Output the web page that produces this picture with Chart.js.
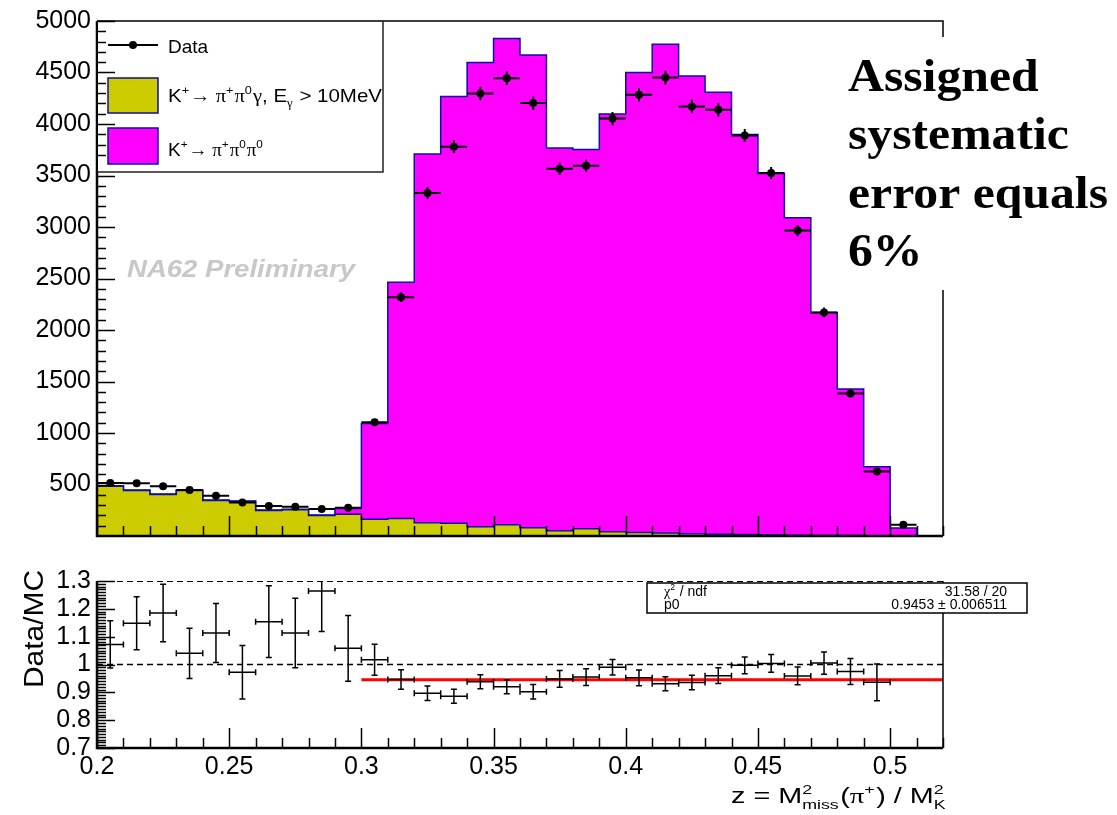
<!DOCTYPE html>
<html>
<head>
<meta charset="utf-8">
<title>Data / MC</title>
<script src="https://cdn.jsdelivr.net/npm/chart.js@4.4.1/dist/chart.umd.min.js"></script>
<style>
  html, body { margin: 0; padding: 0; background: #fff; }
  #contenedor { position: relative; width: 1117px; height: 815px; }
  canvas { position: absolute; left: 0; }
  #grafica { top: 0; }
  #cociente { top: 560px; }
</style>
</head>
<body>
<div id="contenedor">
  <canvas id="grafica" width="1117" height="560"></canvas>
  <canvas id="cociente" width="1117" height="255"></canvas>
</div>
<script>
// Centros de los bines (ancho 0.01)
const binCentros = [0.205, 0.215, 0.225, 0.235, 0.245, 0.255, 0.265, 0.275, 0.285, 0.295,
                    0.305, 0.315, 0.325, 0.335, 0.345, 0.355, 0.365, 0.375, 0.385, 0.395,
                    0.405, 0.415, 0.425, 0.435, 0.445, 0.455, 0.465, 0.475, 0.485, 0.495,
                    0.505, 0.515];
const anchoBin = 0.01;

// Datos con su error
const datos = [515, 512, 484, 446, 390, 326, 291, 284, 262, 274,
               1105, 2319, 3330, 3779, 4296, 4445, 4203, 3566, 3595, 4053,
               4283, 4451, 4170, 4138, 3889, 3524, 2965, 2171, 1383, 627,
               110, null];
const errDatos = [23, 23, 22, 21, 20, 18, 17, 17, 16, 17,
                  33, 48, 58, 61, 66, 67, 65, 60, 60, 64,
                  65, 67, 65, 64, 62, 59, 54, 47, 37, 25,
                  10, 0];

// Simulacion: K+ -> pi+ pi0 gamma (abajo) y K+ -> pi+ pi0 pi0 (encima)
const mcGamma = [483, 441, 402, 441, 344, 334, 247, 254, 199, 210,
                 162, 171, 128, 125, 90, 110, 81, 52, 71, 42,
                 33, 28, 22, 18, 14, 11, 8, 6, 4, 2,
                 1, 0];
const mc3pi = [5, 5, 5, 5, 5, 5, 5, 5, 5, 58,
               930, 2293, 3580, 4142, 4506, 4719, 4590, 3714, 3682, 4054,
               4466, 4746, 4445, 4291, 3884, 3509, 3083, 2165, 1423, 670,
               76, 0];

// Cociente Data/MC
const cociente = [1.072, 1.148, 1.185, 1.040, 1.113, 0.972, 1.154, 1.113, 1.264, 1.058,
                  1.017, 0.946, 0.897, 0.886, 0.938, 0.920, 0.902, 0.948, 0.955, 0.990,
                  0.952, 0.931, 0.935, 0.960, 0.997, 1.004, 0.959, 1.005, 0.975, 0.936,
                  null, null];
const errCociente = [0.085, 0.095, 0.103, 0.090, 0.106, 0.096, 0.129, 0.125, 0.145, 0.118,
                     0.056, 0.035, 0.026, 0.025, 0.025, 0.025, 0.026, 0.030, 0.030, 0.028,
                     0.028, 0.025, 0.026, 0.028, 0.030, 0.032, 0.032, 0.040, 0.047, 0.066,
                     null, null];

// Ajuste a una constante
const ajusteP0 = 0.9453;
const ajusteErr = 0.006511;
const chi2 = 31.58;
const ndf = 20;
const rangoAjuste = [0.30, 0.52];

// Etiquetas de los ejes
const ticksY = [500, 1000, 1500, 2000, 2500, 3000, 3500, 4000, 4500, 5000];
const ticksCociente = [0.7, 0.8, 0.9, 1.0, 1.1, 1.2, 1.3];
const ticksX = [0.2, 0.25, 0.3, 0.35, 0.4, 0.45, 0.5];

const SANS = '"Liberation Sans", Arial, sans-serif';
const SERIF = '"Liberation Serif", "Times New Roman", serif';
const AZUL = '#0c0ca8';

// Puntos de un histograma en escalones (bordes inferiores + borde final)
function escalones(valores) {
    const pts = binCentros.map((c, i) => ({ x: c - anchoBin / 2, y: valores[i] }));
    const n = binCentros.length - 1;
    pts.push({ x: binCentros[n] + anchoBin / 2, y: valores[n] });
    return pts;
}
const totalMC = mcGamma.map((v, i) => v + mc3pi[i]);

// Texto con super/subindices
function fuente(tam, griego, negrita) {
    return (negrita ? 'bold ' : '') + tam + 'px ' + (griego ? SERIF : SANS);
}
function anchoParte(ctx, p, tam) {
    if (p.t !== undefined) {
        ctx.font = fuente(tam, p.g);
        return ctx.measureText(p.t).width;
    }
    const chico = tam * 0.62;
    let w = 0;
    ctx.font = fuente(chico, p.g);
    if (p.sup) w = Math.max(w, ctx.measureText(p.sup).width);
    if (p.sub) w = Math.max(w, ctx.measureText(p.sub).width);
    return w + tam * 0.05;
}
function dibujarRico(ctx, partes, x, y, tam, opc) {
    opc = opc || {};
    let ancho = 0;
    partes.forEach(p => { ancho += anchoParte(ctx, p, tam); });
    const sx = opc.ancho ? opc.ancho / ancho : 1;
    const x0 = opc.alinear === 'right' ? x - ancho * sx : x;
    ctx.save();
    ctx.translate(x0, y);
    ctx.scale(sx, 1);
    ctx.fillStyle = opc.color || '#000';
    ctx.textBaseline = 'alphabetic';
    ctx.textAlign = 'left';
    let cx = 0;
    partes.forEach(p => {
        const w = anchoParte(ctx, p, tam);
        if (p.t !== undefined) {
            ctx.font = fuente(tam, p.g);
            ctx.fillText(p.t, cx, 0);
        } else {
            ctx.font = fuente(tam * 0.62, p.g);
            if (p.sup) ctx.fillText(p.sup, cx, -tam * 0.42);
            if (p.sub) ctx.fillText(p.sub, cx, tam * 0.28);
        }
        cx += w;
    });
    ctx.restore();
}
// Texto simple estirado a un ancho dado
function textoAjustado(ctx, texto, x, y, font, ancho, color) {
    ctx.save();
    ctx.font = font;
    const w = ctx.measureText(texto).width;
    ctx.translate(x, y);
    ctx.scale(ancho / w, 1);
    ctx.fillStyle = color || '#000';
    ctx.textAlign = 'left';
    ctx.textBaseline = 'alphabetic';
    ctx.fillText(texto, 0, 0);
    ctx.restore();
}

// Marcas hacia dentro del marco, estilo ROOT
function marcasY(ctx, esc, area, valores, largo) {
    ctx.beginPath();
    valores.forEach(v => {
        const p = Math.round(esc.getPixelForValue(v)) + 0.5;
        ctx.moveTo(area.left, p);
        ctx.lineTo(area.left + largo, p);
    });
    ctx.stroke();
}
function marcasX(ctx, esc, area, valores, largo) {
    ctx.beginPath();
    valores.forEach(v => {
        const p = Math.round(esc.getPixelForValue(v)) + 0.5;
        ctx.moveTo(p, area.bottom);
        ctx.lineTo(p, area.bottom - largo);
    });
    ctx.stroke();
}
function marcasEjeX(ctx, esc, area) {
    const mayores = [], menores = [];
    for (let k = 20; k <= 52; k++) (k % 5 === 0 ? mayores : menores).push(k / 100);
    marcasX(ctx, esc, area, mayores, 20);
    marcasX(ctx, esc, area, menores, 10);
}

const leyendaGamma = [{ t: 'K' }, { sup: '+' }, { t: '\u2192 ', g: true }, { t: '\u03c0', g: true }, { sup: '+' },
    { t: '\u03c0', g: true }, { sup: '0' }, { t: '\u03b3', g: true }, { t: ', E' }, { sub: '\u03b3', g: true }, { t: ' > 10MeV' }];
const leyenda3pi = [{ t: 'K' }, { sup: '+' }, { t: '\u2192 ', g: true }, { t: '\u03c0', g: true }, { sup: '+' },
    { t: '\u03c0', g: true }, { sup: '0' }, { t: '\u03c0', g: true }, { sup: '0' }];
const tituloX = [{ t: 'z = M' }, { sup: '2', sub: 'miss' }, { t: '(' }, { t: '\u03c0', g: true }, { sup: '+' },
    { t: ') / M' }, { sup: '2', sub: 'K' }];

// Plugin del panel superior: errores, marco, leyenda y textos
const marcoSuperior = {
    id: 'marcoSuperior',
    afterDatasetsDraw(chart) {
        const { ctx, scales: { x, y } } = chart;
        ctx.save();
        ctx.strokeStyle = '#000';
        ctx.lineWidth = 2;
        ctx.beginPath();
        binCentros.forEach((c, i) => {
            if (datos[i] === null) return;
            const px = x.getPixelForValue(c);
            const py = y.getPixelForValue(datos[i]);
            ctx.moveTo(x.getPixelForValue(c - anchoBin / 2), py);
            ctx.lineTo(x.getPixelForValue(c + anchoBin / 2), py);
            ctx.moveTo(px, y.getPixelForValue(datos[i] - errDatos[i]));
            ctx.lineTo(px, y.getPixelForValue(datos[i] + errDatos[i]));
        });
        ctx.stroke();
        ctx.restore();
    },
    afterDraw(chart) {
        const { ctx, chartArea: a, scales: { x, y } } = chart;
        ctx.save();
        ctx.strokeStyle = '#000';

        // marcas
        ctx.lineWidth = 1.5;
        const mayY = [], menY = [];
        for (let k = 1; k <= 50; k++) (k % 5 === 0 ? mayY : menY).push(k * 100);
        marcasY(ctx, y, a, mayY, 18);
        marcasY(ctx, y, a, menY, 9);
        marcasEjeX(ctx, x, a);

        // marco
        ctx.lineWidth = 1.5;
        ctx.beginPath();
        ctx.moveTo(a.left, a.top); ctx.lineTo(a.right, a.top); ctx.lineTo(a.right, a.bottom);
        ctx.stroke();
        ctx.lineWidth = 2.5;
        ctx.beginPath();
        ctx.moveTo(a.left, a.top); ctx.lineTo(a.left, a.bottom); ctx.lineTo(a.right, a.bottom);
        ctx.stroke();

        // leyenda
        ctx.fillStyle = '#fff';
        ctx.fillRect(a.left + 1, a.top + 1, 383 - a.left - 1, 172 - a.top - 1);
        ctx.strokeStyle = '#222';
        ctx.lineWidth = 1.5;
        ctx.beginPath();
        ctx.moveTo(383, a.top); ctx.lineTo(383, 172); ctx.lineTo(a.left, 172);
        ctx.stroke();
        // se repintan las marcas que tapa la leyenda
        ctx.strokeStyle = '#000';
        marcasY(ctx, y, a, mayY.filter(v => v >= 3700), 18);
        marcasY(ctx, y, a, menY.filter(v => v >= 3700), 9);

        ctx.lineWidth = 2;
        ctx.beginPath(); ctx.moveTo(108, 45); ctx.lineTo(158, 45); ctx.stroke();
        ctx.fillStyle = '#000';
        ctx.beginPath(); ctx.arc(133, 45, 4, 0, Math.PI * 2); ctx.fill();
        dibujarRico(ctx, [{ t: 'Data' }], 168, 53, 19);

        ctx.lineWidth = 1.5;
        ctx.strokeStyle = AZUL;
        ctx.fillStyle = '#cccc00';
        ctx.fillRect(108, 78, 50, 35); ctx.strokeRect(108, 78, 50, 35);
        ctx.fillStyle = '#ff00ff';
        ctx.fillRect(108, 128, 50, 36); ctx.strokeRect(108, 128, 50, 36);
        dibujarRico(ctx, leyendaGamma, 168, 102, 19, { ancho: 214 });
        dibujarRico(ctx, leyenda3pi, 168, 156, 19);

        // marca de agua
        textoAjustado(ctx, 'NA62 Preliminary', 127, 277, 'italic bold 24px ' + SANS, 228, '#c8c8c8');

        // recuadro de texto a la derecha
        ctx.fillStyle = '#fff';
        ctx.fillRect(843, 37, 1117 - 843, 253);
        ctx.font = 'bold 46px ' + SERIF;
        const sx = 260 / ctx.measureText('error equals').width;
        ['Assigned', 'systematic', 'error equals', '6%'].forEach((linea, i) => {
            ctx.font = 'bold 46px ' + SERIF;
            const w = ctx.measureText(linea).width;
            textoAjustado(ctx, linea, 848, 91 + i * 58.3, 'bold 46px ' + SERIF, w * sx);
        });
        ctx.restore();
    }
};

// Plugin del panel inferior: errores del cociente, marco y caja del ajuste
const marcoInferior = {
    id: 'marcoInferior',
    afterDatasetsDraw(chart) {
        const { ctx, chartArea: a, scales: { x, y } } = chart;
        ctx.save();
        ctx.beginPath();
        ctx.rect(a.left, a.top, a.right - a.left, a.bottom - a.top);
        ctx.clip();
        ctx.strokeStyle = '#000';
        ctx.lineWidth = 1.5;
        ctx.beginPath();
        binCentros.forEach((c, i) => {
            if (cociente[i] === null) return;
            const px = x.getPixelForValue(c);
            const py = y.getPixelForValue(cociente[i]);
            const x1 = x.getPixelForValue(c - anchoBin / 2);
            const x2 = x.getPixelForValue(c + anchoBin / 2);
            const y1 = y.getPixelForValue(cociente[i] - errCociente[i]);
            const y2 = y.getPixelForValue(cociente[i] + errCociente[i]);
            ctx.moveTo(x1, py); ctx.lineTo(x2, py);
            ctx.moveTo(px, y1); ctx.lineTo(px, y2);
            // topes
            ctx.moveTo(x1, py - 3); ctx.lineTo(x1, py + 3);
            ctx.moveTo(x2, py - 3); ctx.lineTo(x2, py + 3);
            ctx.moveTo(px - 3, y1); ctx.lineTo(px + 3, y1);
            ctx.moveTo(px - 3, y2); ctx.lineTo(px + 3, y2);
        });
        ctx.stroke();
        ctx.restore();
    },
    afterDraw(chart) {
        const { ctx, chartArea: a, scales: { x, y } } = chart;
        ctx.save();
        ctx.strokeStyle = '#000';
        ctx.lineWidth = 1.5;
        const mayY = [], menY = [];
        for (let k = 70; k <= 130; k++) (k % 10 === 0 ? mayY : menY).push(k / 100);
        marcasY(ctx, y, a, mayY, 18);
        marcasY(ctx, y, a, menY, 9);
        marcasEjeX(ctx, x, a);

        ctx.lineWidth = 2.5;
        ctx.beginPath();
        ctx.moveTo(a.left, a.top); ctx.lineTo(a.left, a.bottom); ctx.lineTo(a.right, a.bottom);
        ctx.stroke();
        ctx.lineWidth = 1.5;
        ctx.beginPath();
        ctx.moveTo(a.right, a.top); ctx.lineTo(a.right, a.bottom);
        ctx.stroke();

        // titulo del eje y
        ctx.save();
        ctx.translate(43, 10);
        ctx.rotate(-Math.PI / 2);
        ctx.font = '27px ' + SANS;
        const w = ctx.measureText('Data/MC').width;
        ctx.scale(118 / w, 1);
        ctx.textAlign = 'right';
        ctx.textBaseline = 'alphabetic';
        ctx.fillStyle = '#000';
        ctx.fillText('Data/MC', 0, 0);
        ctx.restore();

        // titulo del eje x
        dibujarRico(ctx, tituloX, 947, 243, 22, { alinear: 'right', ancho: 216 });

        // caja del ajuste
        ctx.fillStyle = '#fff';
        ctx.fillRect(647, 23, 380, 30);
        ctx.strokeStyle = '#000';
        ctx.lineWidth = 1.5;
        ctx.strokeRect(647, 23, 380, 30);
        dibujarRico(ctx, [{ t: '\u03c7', g: true }, { sup: '2' }, { t: ' / ndf' }], 664, 36, 14);
        dibujarRico(ctx, [{ t: 'p0' }], 664, 49, 14);
        dibujarRico(ctx, [{ t: chi2.toFixed(2) + ' / ' + ndf }], 1007, 36, 14, { alinear: 'right' });
        dibujarRico(ctx, [{ t: ajusteP0.toFixed(4) + ' \u00b1 ' + ajusteErr.toFixed(6) }], 1007, 49, 14, { alinear: 'right' });
        ctx.restore();
    }
};

document.addEventListener('DOMContentLoaded', function() {
    const etiqueta = { family: SANS, size: 25 };

    // Panel superior: histograma apilado y datos
    new Chart(document.getElementById('grafica').getContext('2d'), {
        type: 'line',
        data: {
            datasets: [{
                label: 'Data',
                data: binCentros.map((c, i) => ({ x: c, y: datos[i] })),
                showLine: false,
                pointRadius: 4,
                pointBackgroundColor: '#000',
                pointBorderColor: '#000',
                pointBorderWidth: 0
            }, {
                label: 'K+ -> pi+ pi0 gamma',
                data: escalones(mcGamma),
                stepped: 'before',
                fill: 'origin',
                backgroundColor: '#cccc00',
                borderColor: AZUL,
                borderWidth: 1.5,
                pointRadius: 0
            }, {
                label: 'K+ -> pi+ pi0 pi0',
                data: escalones(totalMC),
                stepped: 'before',
                fill: 'origin',
                backgroundColor: '#ff00ff',
                borderColor: AZUL,
                borderWidth: 1.5,
                pointRadius: 0
            }]
        },
        options: {
            responsive: false,
            animation: false,
            devicePixelRatio: 1,
            layout: { padding: { left: 0, top: 20, right: 174, bottom: 24 } },
            plugins: { legend: { display: false }, tooltip: { enabled: false } },
            scales: {
                x: { type: 'linear', min: 0.2, max: 0.52, display: false },
                y: {
                    min: 0,
                    max: 5000,
                    afterFit: s => { s.width = 97; },
                    afterBuildTicks: s => { s.ticks = ticksY.map(v => ({ value: v })); },
                    grid: { display: false, drawTicks: false },
                    border: { display: false },
                    ticks: { font: etiqueta, color: '#000', padding: 6, autoSkip: false, callback: v => String(v) }
                }
            }
        },
        plugins: [marcoSuperior]
    });

    // Panel inferior: cociente Data/MC con el ajuste
    new Chart(document.getElementById('cociente').getContext('2d'), {
        type: 'line',
        data: {
            datasets: [{
                label: 'Data/MC',
                data: binCentros.map((c, i) => ({ x: c, y: cociente[i] })),
                showLine: false,
                pointRadius: 0
            }, {
                label: 'ajuste',
                data: rangoAjuste.map(v => ({ x: v, y: ajusteP0 })),
                borderColor: '#ff0000',
                borderWidth: 3,
                pointRadius: 0
            }, {
                label: 'uno',
                data: [{ x: 0.2, y: 1 }, { x: 0.52, y: 1 }],
                borderColor: '#000',
                borderWidth: 1.5,
                borderDash: [6, 4],
                pointRadius: 0
            }, {
                label: 'tope',
                data: [{ x: 0.2, y: 1.3 }, { x: 0.52, y: 1.3 }],
                borderColor: '#000',
                borderWidth: 2,
                borderDash: [6, 4],
                pointRadius: 0
            }]
        },
        options: {
            responsive: false,
            animation: false,
            devicePixelRatio: 1,
            layout: { padding: { left: 0, top: 18, right: 174, bottom: 0 } },
            plugins: { legend: { display: false }, tooltip: { enabled: false } },
            scales: {
                x: {
                    type: 'linear',
                    min: 0.2,
                    max: 0.52,
                    afterFit: s => { s.height = 67; },
                    afterBuildTicks: s => { s.ticks = ticksX.map(v => ({ value: v })); },
                    grid: { display: false, drawTicks: false },
                    border: { display: false },
                    ticks: { font: etiqueta, color: '#000', padding: 4, autoSkip: false, maxRotation: 0,
                             callback: v => String(+v.toFixed(3)) }
                },
                y: {
                    min: 0.7,
                    max: 1.3,
                    afterFit: s => { s.width = 97; },
                    afterBuildTicks: s => { s.ticks = ticksCociente.map(v => ({ value: v })); },
                    grid: { display: false, drawTicks: false },
                    border: { display: false },
                    ticks: { font: etiqueta, color: '#000', padding: 6, autoSkip: false,
                             callback: v => String(+v.toFixed(2)) }
                }
            }
        },
        plugins: [marcoInferior]
    });
});
</script>
</body>
</html>
